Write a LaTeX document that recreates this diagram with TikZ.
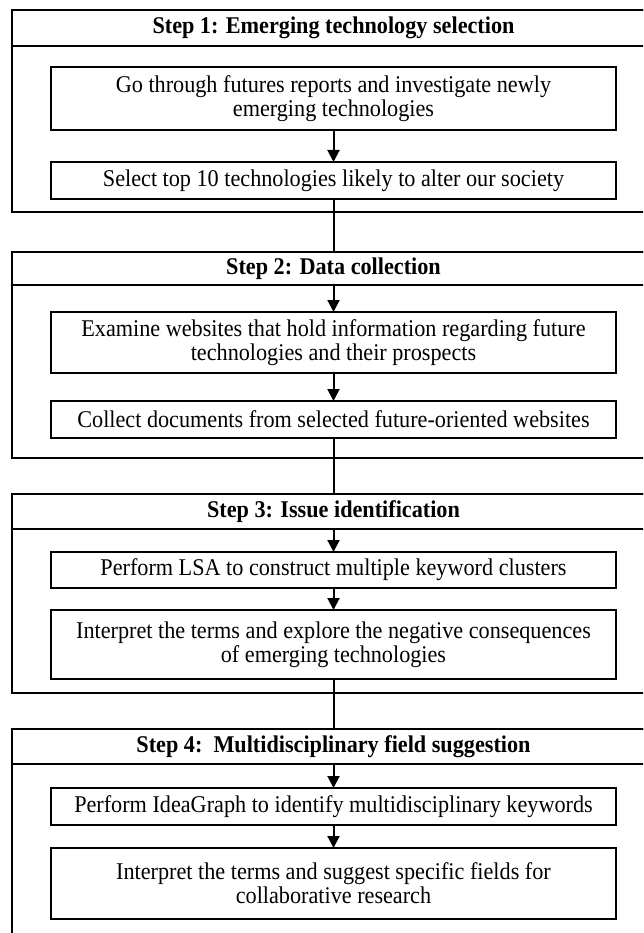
\documentclass[tikz,border=0pt]{standalone}
\usepackage{fontspec}
\setmainfont{Liberation Serif}[FakeStretch=0.925]
\usetikzlibrary{arrows.meta}
\begin{document}
\begin{tikzpicture}[x=1pt,y=-1pt,
  every node/.style={outer sep=0pt, inner sep=0pt},
  outerbox/.style={draw, line width=2pt, minimum width=644pt, anchor=north},
  headbox/.style={draw, line width=2pt, minimum width=644pt, anchor=north,
    font=\fontsize{24}{24}\selectfont\bfseries},
  stepbox/.style={draw, line width=2pt, minimum width=565pt, anchor=north,
    align=center, font=\fontsize{24}{24}\selectfont},
  flow/.style={line width=2pt, -{Triangle[width=12pt,length=12pt]}},
  link/.style={line width=2pt}]
\useasboundingbox (0,0) rectangle (643,933);
\clip (0,0) rectangle (643,933);
% Step 1
\node[outerbox, minimum height=202pt] (s1) at (333.5,10) {};
\node[headbox, minimum height=36pt] (h1) at (333.5,10) {Step 1: Emerging technology selection};
\node[stepbox, minimum height=63pt] (b11) at (333.5,67) {Go through futures reports and investigate newly\\emerging technologies};
\node[stepbox, minimum height=37pt] (b12) at (333.5,162) {Select top 10 technologies likely to alter our society};
% Step 2
\node[outerbox, minimum height=206pt] (s2) at (333.5,252) {};
\node[headbox, minimum height=33pt] (h2) at (333.5,252) {Step 2: Data collection};
\node[stepbox, minimum height=61pt] (b21) at (333.5,312) {Examine websites that hold information regarding future\\technologies and their prospects};
\node[stepbox, minimum height=37pt] (b22) at (333.5,401) {Collect documents from selected future-oriented websites};
% Step 3
\node[outerbox, minimum height=199pt] (s3) at (333.5,494) {};
\node[headbox, minimum height=35pt] (h3) at (333.5,494) {Step 3: Issue identification};
\node[stepbox, minimum height=36pt] (b31) at (333.5,552) {Perform LSA to construct multiple keyword clusters};
\node[stepbox, minimum height=69pt] (b32) at (333.5,610) {Interpret the terms and explore the negative consequences\\of emerging technologies};
% Step 4
\node[outerbox, minimum height=240pt] (s4) at (333.5,729) {};
\node[headbox, minimum height=35pt] (h4) at (333.5,729) {Step 4:\ \ Multidisciplinary field suggestion};
\node[stepbox, minimum height=37pt] (b41) at (333.5,788) {Perform IdeaGraph to identify multidisciplinary keywords};
\node[stepbox, minimum height=71pt] (b42) at (333.5,848) {Interpret the terms and suggest specific fields for\\collaborative research};
% connectors
\draw[flow] (b11.south) -- (b12.north);
\draw[link] (b12.south) -- (s2.north);
\draw[flow] (h2.south) -- (b21.north);
\draw[flow] (b21.south) -- (b22.north);
\draw[link] (b22.south) -- (s3.north);
\draw[flow] (h3.south) -- (b31.north);
\draw[flow] (b31.south) -- (b32.north);
\draw[link] (b32.south) -- (s4.north);
\draw[flow] (h4.south) -- (b41.north);
\draw[flow] (b41.south) -- (b42.north);
\end{tikzpicture}
\end{document}
